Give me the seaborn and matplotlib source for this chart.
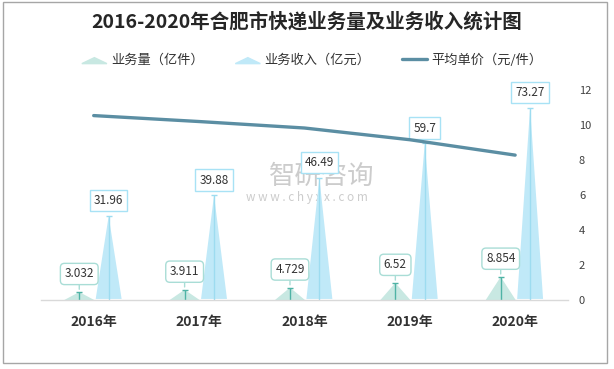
import matplotlib.pyplot as plt
import matplotlib.patches as mpatches
from matplotlib.legend_handler import HandlerPatch
from matplotlib.lines import Line2D
import pandas as pd
import seaborn as sns

years = ['2016年', '2017年', '2018年', '2019年', '2020年']
volume = [3.032, 3.911, 4.729, 6.52, 8.854]      # 业务量 亿件
revenue = [31.96, 39.88, 46.49, 59.7, 73.27]     # 业务收入 亿元
price = [10.54, 10.20, 9.83, 9.16, 8.28]         # 平均单价 元/件

green = '#c8e8e2'
green_dark = '#4fb3a5'
green_edge = '#a9ddd6'
blue = '#c0e9f8'
blue_line = '#9ddcf0'
blue_edge = '#a8e2f5'
line_col = '#5b8ea3'

sns.set_theme(style="white")
plt.rcParams['font.family'] = ['Noto Sans CJK SC', 'DejaVu Sans']

df = pd.DataFrame({'pos': range(len(years)), 'year': years,
                   'volume': volume, 'revenue': revenue, 'price': price})

fig = plt.figure(figsize=(6.14, 3.69), dpi=100)
ax = fig.add_axes([0.0668, 0.187, 0.858, 0.569])
ax2 = ax.twinx()
ax.set_zorder(1)
ax2.set_zorder(2)

# watermark (behind everything)
fig.text(322 / 614, 1 - 176 / 369, '智研咨询', ha='center', va='center',
         fontsize=19, color='#cccccc', zorder=-1)
fig.text(307 / 614, 1 - 197 / 369, 'w w w . c h y x x . c o m', ha='center', va='center',
         fontsize=8.5, color='#cccccc', zorder=-1)
ax.patch.set_visible(False)
ax2.patch.set_visible(False)

# triangles (业务量 / 业务收入)
for i, row in df.iterrows():
    c = row.pos - 0.137
    ax.fill([c - 0.142, c, c + 0.142], [0, row.volume, 0], color=green, lw=0)
    ax.vlines(c, 0, row.volume, color=green_dark, lw=1)
    ax.hlines(row.volume, c - 0.028, c + 0.028, color=green_dark, lw=1)
    ax.annotate(f'{row.volume:g}', xy=(c, row.volume), xytext=(0, 13),
                textcoords='offset points', ha='center', va='center',
                fontsize=8.5, color='#333333',
                bbox=dict(boxstyle='round,pad=0.35', fc='white', ec=green_edge, lw=1),
                arrowprops=dict(arrowstyle='-', color=green_edge, lw=1, shrinkA=0, shrinkB=2))

    c = row.pos + 0.142
    ax.fill([c - 0.123, c, c + 0.123], [0.4, row.revenue, 0.4], color=blue, lw=0)
    ax.vlines(c, 0, row.revenue, color=blue_line, lw=1)
    ax.hlines(row.revenue, c - 0.028, c + 0.028, color=blue_line, lw=1)
    ax.annotate(f'{row.revenue:g}', xy=(c, row.revenue), xytext=(0, 11),
                textcoords='offset points', ha='center', va='center',
                fontsize=8.5, color='#333333',
                bbox=dict(boxstyle='square,pad=0.35', fc='white', ec=blue_edge, lw=1))

ax.set_xlim(-0.5, 4.5)
ax.set_ylim(0, 80)
ax.set_yticks([])
ax.set_xticks(df.pos)
ax.set_xticklabels(years, fontsize=10, fontweight='bold', color='#333333')
ax.tick_params(axis='x', length=0, pad=11)

# 平均单价 line
sns.lineplot(data=df, x='pos', y='price', ax=ax2, color=line_col, lw=2.4)
ax2.set_ylim(0, 12)
ax2.set_yticks(range(0, 13, 2))
ax2.tick_params(axis='y', length=0, pad=8, labelsize=8, labelcolor='#404040')
ax2.set_ylabel('')
ax2.set_xlabel('')
ax.set_xlabel('')

for a in (ax, ax2):
    for s in a.spines.values():
        s.set_visible(False)
ax.spines['bottom'].set_visible(True)
ax.spines['bottom'].set_color('#d9d9d9')
ax.spines['bottom'].set_linewidth(1)

# title
fig.text(0.5, 1 - 22 / 369, '2016-2020年合肥市快递业务量及业务收入统计图',
         ha='center', va='center', fontsize=14, fontweight='bold', color='#262626')

# legend
def tri(legend, orig_handle, xdescent, ydescent, width, height, fontsize):
    return mpatches.Polygon([[-xdescent, -ydescent], [-xdescent + width, -ydescent],
                             [-xdescent + width / 2, -ydescent + height * 0.65]], closed=True)

handles = [mpatches.Patch(color=green, label='业务量（亿件）'),
           mpatches.Patch(color=blue, label='业务收入（亿元）'),
           Line2D([], [], color=line_col, lw=2.4, label='平均单价（元/件）')]
fig.legend(handles=handles, ncol=3, loc='center', bbox_to_anchor=(312 / 614, 1 - 60 / 369),
           frameon=False, fontsize=9.5, handlelength=1.9, handletextpad=0.3,
           columnspacing=2.4, labelcolor='#333333',
           handler_map={mpatches.Patch: HandlerPatch(patch_func=tri)})

# outer frame
fig.patches.append(mpatches.Rectangle((3 / 614, 1 - 363 / 369), 604 / 614, 361 / 369,
                                      transform=fig.transFigure, fill=False,
                                      ec='#a6a6a6', lw=1))

fig.savefig('out.png', dpi=100)
